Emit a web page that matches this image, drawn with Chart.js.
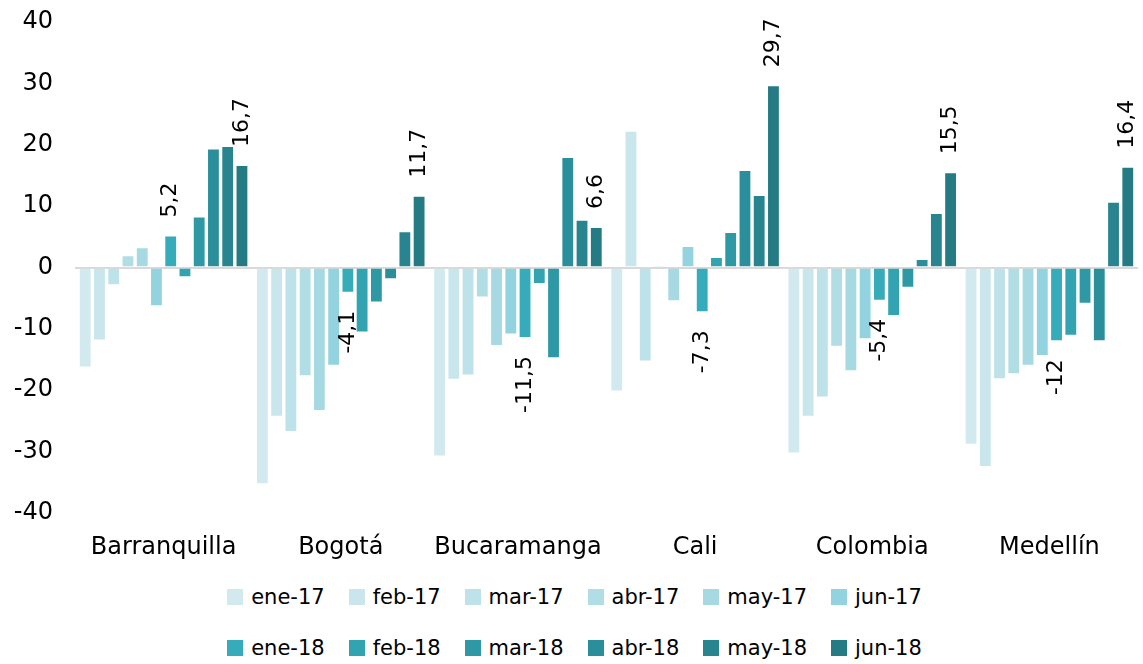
<!DOCTYPE html>
<html>
<head>
<meta charset="utf-8">
<script src="https://cdn.jsdelivr.net/npm/chart.js@4"></script>
<style>
  body { margin: 0; background: #fff; font-family: "DejaVu Sans", sans-serif; }
  #wrap { width: 1143px; height: 664px; position: relative; }
  #legend { position: absolute; top: 571px; left: 0; width: 1143px; }
  .row { display: flex; justify-content: center; height: 51px; align-items: center; padding-left: 6px; }
  .item { display: flex; align-items: center; margin: 0 12px; font-size: 21px; color: #000; }
  .box { width: 16px; height: 16px; margin-right: 8px; }
</style>
</head>
<body>
<div id="wrap">
  <canvas id="myChart" width="1143" height="570"></canvas>
  <div id="legend"></div>
</div>
<script>
// categories
var cities = ["Barranquilla", "Bogotá", "Bucaramanga", "Cali", "Colombia", "Medellín"];

// series (one per month)
var months = ["ene-17", "feb-17", "mar-17", "abr-17", "may-17", "jun-17",
              "ene-18", "feb-18", "mar-18", "abr-18", "may-18", "jun-18"];
var ene17 = [-16.3, -35.3, -30.8, -20.2, -30.3, -28.9];
var feb17 = [-11.9, -24.3, -18.3, 22.3, -24.3, -32.5];
var mar17 = [-2.9, -26.8, -17.6, -15.3, -21.2, -18.2];
var abr17 = [2.0, -17.7, -4.9, 0.3, -12.9, -17.4];
var may17 = [3.3, -23.4, -12.8, -5.5, -16.9, -16.0];
var jun17 = [-6.3, -16.0, -10.9, 3.5, -11.7, -14.4];
var ene18 = [5.2, -4.1, -11.5, -7.3, -5.4, -12];
var feb18 = [-1.6, -10.6, -2.7, 1.7, -7.9, -11.1];
var mar18 = [8.3, -5.7, -14.8, 5.8, -3.3, -5.9];
var abr18 = [19.4, -1.9, 18.0, 15.9, 1.4, -12.0];
var may18 = [19.8, 5.9, 7.8, 11.8, 8.9, 10.7];
var jun18 = [16.7, 11.7, 6.6, 29.7, 15.5, 16.4];
var values = [ene17, feb17, mar17, abr17, may17, jun17, ene18, feb18, mar18, abr18, may18, jun18];

// y ticks
var yTicks = [-40, -30, -20, -10, 0, 10, 20, 30, 40];

// only these series get value labels
var labeled = ["ene-18", "jun-18"];

var barColors = [
  "#d2eaef", "#c8e6ec", "#bde2e9", "#b1dde5", "#a6d9e2", "#93d3df",
  "#36abb9", "#32a3b0", "#2e99a5", "#2b8f9b", "#288590", "#247b83"
];

var datasets = months.map(function(m, i) {
  return {
    label: m,
    data: values[i],
    backgroundColor: barColors[i],
    borderColor: "rgba(255,255,255,0.25)",
    borderWidth: 1,
    categoryPercentage: 0.965,
    barPercentage: 0.9
  };
});

// rotated value labels
var valueLabels = {
  id: "valueLabels",
  afterDatasetsDraw: function(chart) {
    var ctx = chart.ctx;
    ctx.save();
    ctx.font = "22px 'DejaVu Sans'";
    ctx.fillStyle = "#000";
    ctx.textBaseline = "middle";
    chart.data.datasets.forEach(function(ds, i) {
      if (labeled.indexOf(ds.label) < 0) return;
      chart.getDatasetMeta(i).data.forEach(function(bar, j) {
        var v = ds.data[j];
        var txt = String(v).replace(".", ",");
        ctx.save();
        if (v >= 0) {
          ctx.translate(bar.x, bar.y - 18);
          ctx.textAlign = "left";
        } else {
          ctx.translate(bar.x, bar.y + 18);
          ctx.textAlign = "right";
        }
        ctx.rotate(-Math.PI / 2);
        ctx.fillText(txt, 0, 0);
        ctx.restore();
      });
    });
    ctx.restore();
  }
};

new Chart("myChart", {
  type: "bar",
  data: {
    labels: cities,
    datasets: datasets
  },
  plugins: [valueLabels],
  options: {
    responsive: false,
    animation: false,
    layout: { padding: { top: 22, right: 5, left: 0, bottom: 0 } },
    plugins: {
      legend: { display: false },
      tooltip: { enabled: false }
    },
    scales: {
      x: {
        grid: { display: false, drawTicks: false },
        border: { display: false },
        ticks: { color: "#000", font: { family: "DejaVu Sans", size: 24 }, padding: 20, maxRotation: 0 },
        afterFit: function(scale) {
          scale.height = 57;
          scale.paddingLeft = 0;
          scale.paddingRight = 0;
        }
      },
      y: {
        min: -40,
        max: 40,
        afterBuildTicks: function(scale) {
          scale.ticks = yTicks.map(function(v) { return { value: v }; });
        },
        grid: {
          drawTicks: false,
          lineWidth: 2,
          color: function(c) { return c.tick && c.tick.value === 0 ? "#d9d9d9" : "rgba(0,0,0,0)"; }
        },
        border: { display: false },
        ticks: { color: "#000", font: { family: "DejaVu Sans", size: 24 }, padding: 22 },
        afterFit: function(scale) {
          scale.width = 75;
          scale.paddingTop = 0;
          scale.paddingBottom = 0;
        }
      }
    }
  }
});

// legend: two rows of six
var legend = document.getElementById("legend");
[0, 6].forEach(function(start) {
  var row = document.createElement("div");
  row.className = "row";
  months.slice(start, start + 6).forEach(function(m, k) {
    var item = document.createElement("div");
    item.className = "item";
    var box = document.createElement("span");
    box.className = "box";
    box.style.background = barColors[start + k];
    item.appendChild(box);
    item.appendChild(document.createTextNode(m));
    row.appendChild(item);
  });
  legend.appendChild(row);
});
</script>
</body>
</html>
